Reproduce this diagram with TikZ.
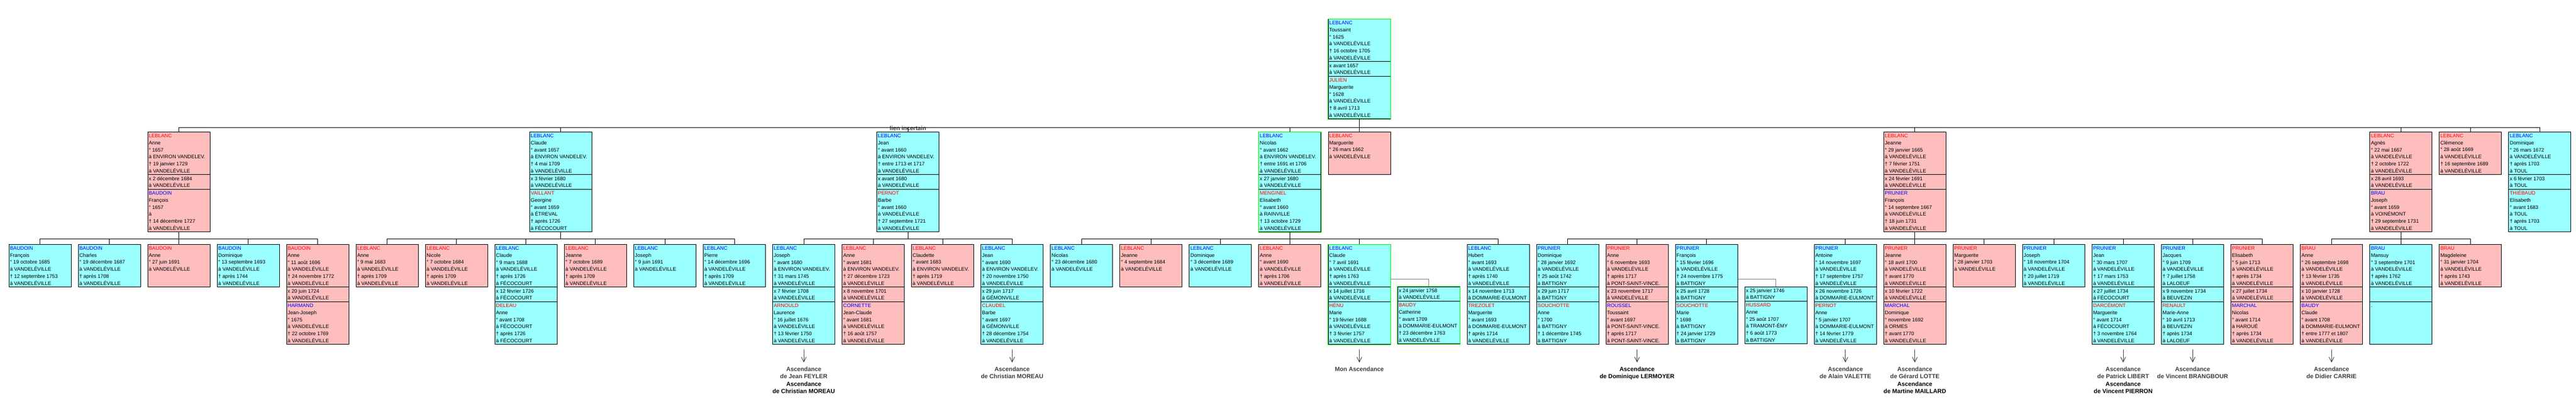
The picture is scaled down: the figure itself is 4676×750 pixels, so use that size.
\documentclass[tikz,border=0pt]{standalone}
\usepackage{fontspec}
\setmainfont{Liberation Sans}
\usetikzlibrary{positioning,shapes.multipart,arrows.meta}

\definecolor{cyanbox}{RGB}{153,255,255}
\definecolor{pinkbox}{RGB}{255,190,190}
\definecolor{directgreen}{RGB}{0,235,0}
\definecolor{maleblue}{RGB}{0,0,255}
\definecolor{femalered}{RGB}{255,0,0}
\definecolor{linkgray}{RGB}{60,60,60}

\newcommand{\homme}[1]{\textcolor{maleblue}{#1}}
\newcommand{\femme}[1]{\textcolor{femalered}{#1}}
\newcommand{\vdv}{à VANDELÉVILLE}
\newcommand{\env}{à ENVIRON VANDELEV.}
\newcommand{\sixl}[1]{\parbox[t][76.5pt][t]{109pt}{\rule{0pt}{9.8pt}#1}}
\newcommand{\twol}[1]{\parbox[t][25.5pt][t]{109pt}{\rule{0pt}{9.8pt}#1}}

\begin{document}
\begin{tikzpicture}[x=126.05pt,y=-1pt,
	box/.style={draw,line width=0.9pt,inner xsep=2pt,inner ysep=0pt,anchor=north,font=\fontsize{9.2}{12.75}\selectfont},
	male/.style={box,fill=cyanbox},
	female/.style={box,fill=pinkbox},
	couple/.style={rectangle split,rectangle split parts=3},
	remarriage/.style={rectangle split,rectangle split parts=2},
	link/.style={line width=0.9pt},
	spouselink/.style={line width=0.9pt,draw=gray},
	ascarrow/.style={line width=0.9pt,draw=linkgray,-{Straight Barb[length=9pt,width=9pt]}},
	asclabel/.style={font=\fontsize{10.8}{12.7}\bfseries\selectfont,text=linkgray,align=center,inner sep=0pt}]
	\useasboundingbox (0pt,0pt) rectangle (4676pt,-750pt);
	\begin{scope}[xshift=72.5pt]
		\node[male,couple] (root) at (19,34) {\sixl{\homme{LEBLANC}\\Toussaint\\° 1625\\\vdv\\† 16 octobre 1705\\\vdv}\nodepart{two}\twol{x avant 1657\\\vdv}\nodepart{three}\sixl{\femme{JULIEN}\\Marguerite\\° 1628\\\vdv\\† 8 avril 1713\\\vdv}};

		% Children
		\node[female,couple] (anne) at (2,239) {\sixl{\femme{LEBLANC}\\Anne\\° 1657\\\env\\† 19 janvier 1729\\\vdv}\nodepart{two}\twol{x 2 décembre 1684\\\vdv}\nodepart{three}\sixl{\homme{BAUDOIN}\\François\\° 1657\\à\\† 14 décembre 1727\\\vdv}};
		\node[male,couple] (claude) at (7.5,239) {\sixl{\homme{LEBLANC}\\Claude\\° avant 1657\\\env\\† 4 mai 1709\\\vdv}\nodepart{two}\twol{x 3 février 1680\\\vdv}\nodepart{three}\sixl{\femme{VAILLANT}\\Georgine\\° avant 1659\\à ÉTREVAL\\† après 1726\\à FÉCOCOURT}};
		\node[male,couple] (jean) at (12.5,239) {\sixl{\homme{LEBLANC}\\Jean\\° avant 1660\\\env\\† entre 1713 et 1717\\\vdv}\nodepart{two}\twol{x avant 1680\\\vdv}\nodepart{three}\sixl{\femme{PERNOT}\\Barbe\\° avant 1660\\\vdv\\† 27 septembre 1721\\\vdv}};
		\node[male,couple] (nicolas) at (18,239) {\sixl{\homme{LEBLANC}\\Nicolas\\° avant 1662\\\env\\† entre 1691 et 1706\\\vdv}\nodepart{two}\twol{x 27 janvier 1680\\\vdv}\nodepart{three}\sixl{\femme{MENGINEL}\\Elisabeth\\° avant 1660\\à RAINVILLE\\† 13 octobre 1729\\\vdv}};
		\node[female] (marguerite) at (19,239) {\sixl{\femme{LEBLANC}\\Marguerite\\° 26 mars 1662\\\vdv}};
		\node[female,couple] (jeanne) at (27,239) {\sixl{\femme{LEBLANC}\\Jeanne\\° 29 janvier 1665\\\vdv\\† 7 février 1751\\\vdv}\nodepart{two}\twol{x 24 février 1691\\\vdv}\nodepart{three}\sixl{\homme{PRUNIER}\\François\\° 14 septembre 1667\\\vdv\\† 18 juin 1731\\\vdv}};
		\node[female,couple] (agnes) at (34,239) {\sixl{\femme{LEBLANC}\\Agnès\\° 22 mai 1667\\\vdv\\† 2 octobre 1722\\\vdv}\nodepart{two}\twol{x 28 avril 1693\\\vdv}\nodepart{three}\sixl{\homme{BRAU}\\Joseph\\° avant 1659\\à VOINÉMONT\\† 29 septembre 1731\\\vdv}};
		\node[female] (clemence) at (35,239) {\sixl{\femme{LEBLANC}\\Clémence\\° 28 août 1669\\\vdv\\† 16 septembre 1689\\\vdv}};
		\node[male,couple] (dominique) at (36,239) {\sixl{\homme{LEBLANC}\\Dominique\\° 26 mars 1672\\\vdv\\† après 1703\\à TOUL}\nodepart{two}\twol{x 6 février 1703\\à TOUL}\nodepart{three}\sixl{\femme{THIÉBAUD}\\Elisabeth\\° avant 1683\\à TOUL\\† après 1703\\à TOUL}};
		\node[font=\fontsize{10.7}{12}\bfseries\selectfont,text=linkgray,inner sep=0pt] (lien) at (12.5,233) {lien incertain};

		% Grandchildren
		\node[male] (c00) at (0,443) {\sixl{\homme{BAUDOIN}\\François\\° 19 octobre 1685\\\vdv\\† 12 septembre 1753\\\vdv}};
		\node[male] (c01) at (1,443) {\sixl{\homme{BAUDOIN}\\Charles\\° 19 décembre 1687\\\vdv\\† après 1708\\\vdv}};
		\node[female] (c02) at (2,443) {\sixl{\femme{BAUDOIN}\\Anne\\° 27 juin 1691\\\vdv}};
		\node[male] (c03) at (3,443) {\sixl{\homme{BAUDOIN}\\Dominique\\° 13 septembre 1693\\\vdv\\† après 1744\\\vdv}};
		\node[female,couple] (c04) at (4,443) {\sixl{\femme{BAUDOIN}\\Anne\\° 11 août 1696\\\vdv\\† 24 novembre 1772\\\vdv}\nodepart{two}\twol{x 20 juin 1724\\\vdv}\nodepart{three}\sixl{\homme{HARMAND}\\Jean-Joseph\\° 1675\\\vdv\\† 22 octobre 1769\\\vdv}};
		\node[female] (c05) at (5,443) {\sixl{\femme{LEBLANC}\\Anne\\° 9 mai 1683\\\vdv\\† après 1709\\\vdv}};
		\node[female] (c06) at (6,443) {\sixl{\femme{LEBLANC}\\Nicole\\° 7 octobre 1684\\\vdv\\† après 1709\\\vdv}};
		\node[male,couple] (c07) at (7,443) {\sixl{\homme{LEBLANC}\\Claude\\° 9 mars 1688\\\vdv\\† après 1726\\à FÉCOCOURT}\nodepart{two}\twol{x 12 février 1726\\à FÉCOCOURT}\nodepart{three}\sixl{\femme{DELEAU}\\Anne\\° avant 1708\\à FÉCOCOURT\\† après 1726\\à FÉCOCOURT}};
		\node[female] (c08) at (8,443) {\sixl{\femme{LEBLANC}\\Jeanne\\° 7 octobre 1689\\\vdv\\† après 1709\\\vdv}};
		\node[male] (c09) at (9,443) {\sixl{\homme{LEBLANC}\\Joseph\\° 9 juin 1691\\\vdv}};
		\node[male] (c10) at (10,443) {\sixl{\homme{LEBLANC}\\Pierre\\° 14 décembre 1696\\\vdv\\† après 1709\\\vdv}};
		\node[male,couple] (c11) at (11,443) {\sixl{\homme{LEBLANC}\\Joseph\\° avant 1680\\\env\\† 31 mars 1745\\\vdv}\nodepart{two}\twol{x 7 février 1708\\\vdv}\nodepart{three}\sixl{\femme{ARNOULD}\\Laurence\\° 16 juillet 1676\\\vdv\\† 13 février 1750\\\vdv}};
		\node[female,couple] (c12) at (12,443) {\sixl{\femme{LEBLANC}\\Anne\\° avant 1681\\\env\\† 27 décembre 1723\\\vdv}\nodepart{two}\twol{x 8 novembre 1701\\\vdv}\nodepart{three}\sixl{\homme{CORNETTE}\\Jean-Claude\\° avant 1681\\\vdv\\† 16 août 1757\\\vdv}};
		\node[female] (c13) at (13,443) {\sixl{\femme{LEBLANC}\\Claudette\\° avant 1683\\\env\\† après 1719\\\vdv}};
		\node[male,couple] (c14) at (14,443) {\sixl{\homme{LEBLANC}\\Jean\\° avant 1690\\\env\\† 20 novembre 1750\\\vdv}\nodepart{two}\twol{x 29 juin 1717\\à GÉMONVILLE}\nodepart{three}\sixl{\femme{CLAUDEL}\\Barbe\\° avant 1697\\à GÉMONVILLE\\† 28 décembre 1754\\\vdv}};
		\node[male] (c15) at (15,443) {\sixl{\homme{LEBLANC}\\Nicolas\\° 23 décembre 1680\\\vdv}};
		\node[female] (c16) at (16,443) {\sixl{\femme{LEBLANC}\\Jeanne\\° 4 septembre 1684\\\vdv}};
		\node[male] (c17) at (17,443) {\sixl{\homme{LEBLANC}\\Dominique\\° 3 décembre 1689\\\vdv}};
		\node[female] (c18) at (18,443) {\sixl{\femme{LEBLANC}\\Anne\\° avant 1690\\\vdv\\† après 1706\\\vdv}};
		\node[male,couple] (c19) at (19,443) {\sixl{\homme{LEBLANC}\\Claude\\° 7 avril 1691\\\vdv\\† après 1763\\\vdv}\nodepart{two}\twol{x 14 juillet 1716\\\vdv}\nodepart{three}\sixl{\femme{HÉNU}\\Marie\\° 19 février 1688\\\vdv\\† 3 février 1757\\\vdv}};
		\node[male,remarriage] (r20) at (20,519.5) {\twol{x 24 janvier 1758\\\vdv}\nodepart{two}\sixl{\femme{BAUDY}\\Catherine\\° avant 1709\\à DOMMARIE-EULMONT\\† 23 décembre 1763\\\vdv}};
		\node[male,couple] (c21) at (21,443) {\sixl{\homme{LEBLANC}\\Hubert\\° avant 1693\\\vdv\\† après 1740\\\vdv}\nodepart{two}\twol{x 14 novembre 1713\\à DOMMARIE-EULMONT}\nodepart{three}\sixl{\femme{TREZOLET}\\Marguerite\\° avant 1693\\à DOMMARIE-EULMONT\\† après 1714\\\vdv}};
		\node[male,couple] (c22) at (22,443) {\sixl{\homme{PRUNIER}\\Dominique\\° 28 janvier 1692\\\vdv\\† 25 août 1742\\à BATTIGNY}\nodepart{two}\twol{x 29 juin 1717\\à BATTIGNY}\nodepart{three}\sixl{\femme{SOUCHOTTE}\\Anne\\° 1700\\à BATTIGNY\\† 1 décembre 1745\\à BATTIGNY}};
		\node[female,couple] (c23) at (23,443) {\sixl{\femme{PRUNIER}\\Anne\\° 6 novembre 1693\\\vdv\\† après 1717\\à PONT-SAINT-VINCE.}\nodepart{two}\twol{x 23 novembre 1717\\\vdv}\nodepart{three}\sixl{\homme{ROUSSEL}\\Toussaint\\° avant 1697\\à PONT-SAINT-VINCE.\\† après 1717\\à PONT-SAINT-VINCE.}};
		\node[male,couple] (c24) at (24,443) {\sixl{\homme{PRUNIER}\\François\\° 15 février 1696\\\vdv\\† 24 novembre 1775\\à BATTIGNY}\nodepart{two}\twol{x 25 avril 1728\\à BATTIGNY}\nodepart{three}\sixl{\femme{SOUCHOTTE}\\Marie\\° 1698\\à BATTIGNY\\† 24 janvier 1729\\à BATTIGNY}};
		\node[male,remarriage] (r25) at (25,519.5) {\twol{x 25 janvier 1746\\à BATTIGNY}\nodepart{two}\sixl{\femme{HUSSARD}\\Anne\\° 25 août 1707\\à TRAMONT-ÉMY\\† 6 août 1773\\à BATTIGNY}};
		\node[male,couple] (c26) at (26,443) {\sixl{\homme{PRUNIER}\\Antoine\\° 14 novembre 1697\\\vdv\\† 17 septembre 1757\\\vdv}\nodepart{two}\twol{x 26 novembre 1726\\à DOMMARIE-EULMONT}\nodepart{three}\sixl{\femme{PERNOT}\\Anne\\° 5 janvier 1707\\à DOMMARIE-EULMONT\\† 14 février 1779\\\vdv}};
		\node[female,couple] (c27) at (27,443) {\sixl{\femme{PRUNIER}\\Jeanne\\° 18 avril 1700\\\vdv\\† avant 1770\\\vdv}\nodepart{two}\twol{x 10 février 1722\\\vdv}\nodepart{three}\sixl{\homme{MARCHAL}\\Dominique\\° novembre 1692\\à ORMES\\† avant 1770\\\vdv}};
		\node[female] (c28) at (28,443) {\sixl{\femme{PRUNIER}\\Marguerite\\° 28 janvier 1703\\\vdv}};
		\node[male] (c29) at (29,443) {\sixl{\homme{PRUNIER}\\Joseph\\° 18 novembre 1704\\\vdv\\† 20 juillet 1719\\\vdv}};
		\node[male,couple] (c30) at (30,443) {\sixl{\homme{PRUNIER}\\Jean\\° 30 mars 1707\\\vdv\\† 17 mars 1753\\\vdv}\nodepart{two}\twol{x 27 juillet 1734\\à FÉCOCOURT}\nodepart{three}\sixl{\femme{DARCÉMONT}\\Marguerite\\° avant 1714\\à FÉCOCOURT\\† 3 novembre 1764\\\vdv}};
		\node[male,couple] (c31) at (31,443) {\sixl{\homme{PRUNIER}\\Jacques\\° 9 juin 1709\\\vdv\\† 7 juillet 1758\\à LALOEUF}\nodepart{two}\twol{x 9 novembre 1734\\à BEUVEZIN}\nodepart{three}\sixl{\femme{RENAULT}\\Marie-Anne\\° 10 avril 1713\\à BEUVEZIN\\† après 1734\\à LALOEUF}};
		\node[female,couple] (c32) at (32,443) {\sixl{\femme{PRUNIER}\\Elisabeth\\° 5 juin 1713\\\vdv\\† après 1734\\\vdv}\nodepart{two}\twol{x 27 juillet 1734\\\vdv}\nodepart{three}\sixl{\homme{MARCHAL}\\Nicolas\\° avant 1714\\à HAROUÉ\\† après 1734\\\vdv}};
		\node[female,couple] (c33) at (33,443) {\sixl{\femme{BRAU}\\Anne\\° 26 septembre 1698\\\vdv\\† 13 février 1735\\\vdv}\nodepart{two}\twol{x 10 janvier 1728\\\vdv}\nodepart{three}\sixl{\homme{BAUDY}\\Claude\\° avant 1708\\à DOMMARIE-EULMONT\\† entre 1777 et 1807\\\vdv}};
		\node[male,couple] (c34) at (34,443) {\sixl{\homme{BRAU}\\Mansuy\\° 3 septembre 1701\\\vdv\\† après 1762\\\vdv}\nodepart{two}\twol{}\nodepart{three}\sixl{.}};
		\node[female] (c35) at (35,443) {\sixl{\femme{BRAU}\\Magdeleine\\° 31 janvier 1704\\\vdv\\† après 1743\\\vdv}};

		% Direct line
		\foreach \d in {root,nicolas,c19,r20}
			\draw[link,directgreen] (\d.north west) rectangle (\d.south east);

		% Links
		\foreach \g in {anne,claude,jean,nicolas,marguerite,jeanne,agnes,clemence,dominique}
			\draw[link] (root.south) -- ++(0,15.5) -| (\g.north);
		\foreach \c in {c00,c01,c02,c03,c04}
			\draw[link] (anne.south) -- ++(0,12.5) -| (\c.north);
		\foreach \c in {c05,c06,c07,c08,c09,c10}
			\draw[link] (claude.south) -- ++(0,12.5) -| (\c.north);
		\foreach \c in {c11,c12,c13,c14}
			\draw[link] (jean.south) -- ++(0,12.5) -| (\c.north);
		\foreach \c in {c15,c16,c17,c18,c19,c21}
			\draw[link] (nicolas.south) -- ++(0,12.5) -| (\c.north);
		\foreach \c in {c22,c23,c24,c26,c27,c28,c29,c30,c31,c32}
			\draw[link] (jeanne.south) -- ++(0,12.5) -| (\c.north);
		\foreach \c in {c33,c34,c35}
			\draw[link] (agnes.south) -- ++(0,12.5) -| (\c.north);
		\draw[spouselink] (c19.north east) ++(0,63) -| (r20.north);
		\draw[spouselink] (c24.north east) ++(0,63) -| (r25.north);

		% Ascendances
		\node[asclabel,below=40.5pt of c11] (asc11) {Ascendance\\de Jean FEYLER\\[1.7pt]\textcolor{black}{Ascendance}\\\textcolor{black}{de Christian MOREAU}};
		\node[asclabel,below=40.5pt of c14] (asc14) {Ascendance\\de Christian MOREAU};
		\node[asclabel,below=40.5pt of c19] (asc19) {Mon Ascendance};
		\node[asclabel,text=black,below=40.5pt of c23] (asc23) {Ascendance\\de Dominique LERMOYER};
		\node[asclabel,below=40.5pt of c26] (asc26) {Ascendance\\de Alain VALETTE};
		\node[asclabel,below=40.5pt of c27] (asc27) {Ascendance\\de Gérard LOTTE\\[1.7pt]\textcolor{black}{Ascendance}\\\textcolor{black}{de Martine MAILLARD}};
		\node[asclabel,below=40.5pt of c30] (asc30) {Ascendance\\de Patrick LIBERT\\[1.7pt]\textcolor{black}{Ascendance}\\\textcolor{black}{de Vincent PIERRON}};
		\node[asclabel,below=40.5pt of c31] (asc31) {Ascendance\\de Vincent BRANGBOUR};
		\node[asclabel,below=40.5pt of c33] (asc33) {Ascendance\\de Didier CARRIE};
		\foreach \n in {11,14,19,23,26,27,30,31,33}
			\draw[ascarrow] ([yshift=-8.5pt]c\n.south) -- ([yshift=8pt]asc\n.north);
	\end{scope}
\end{tikzpicture}
\end{document}
